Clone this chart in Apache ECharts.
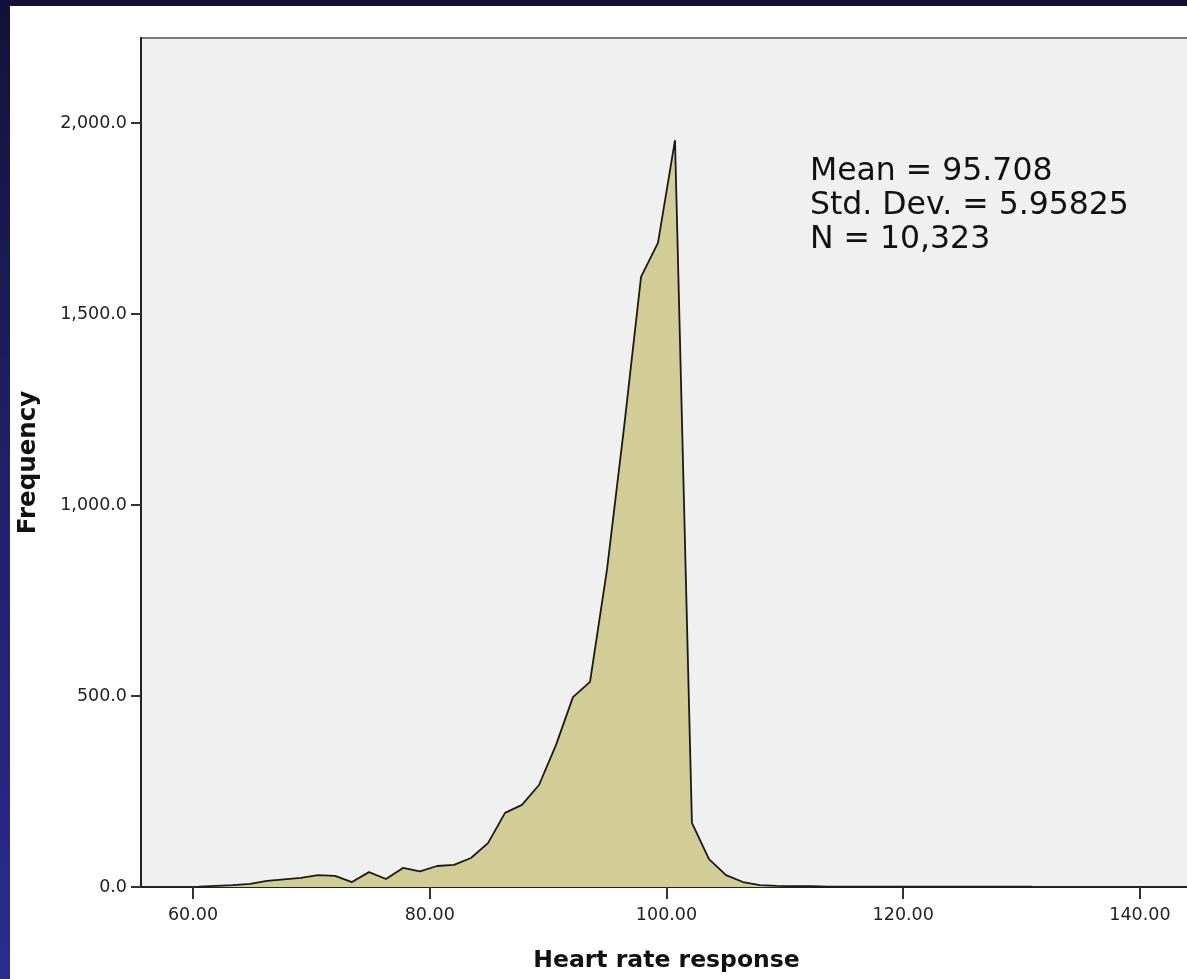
<!DOCTYPE html>
<html>
<head>
<meta charset="utf-8">
<script src="https://cdn.jsdelivr.net/npm/echarts@6/dist/echarts.min.js"></script>
<style>
  html, body { margin: 0; padding: 0; width: 1187px; height: 979px; overflow: hidden; position: relative;
    background: linear-gradient(to bottom, #121238 0%, #1e1e62 40%, #2b2b8f 100%); }
  #panel { position: absolute; left: 10px; top: 6px; right: 0; bottom: 0; background: #ffffff; }
  #chart { position: absolute; left: 0; top: 0; width: 1210px; height: 979px; }
</style>
</head>
<body>
<div id="panel"></div>
<div id="chart"></div>
<script>
// Bin centres (heart rate response) and frequencies
const binCenters = [
  60.51, 61.94, 63.38, 64.82, 66.25, 67.69, 69.12, 70.56, 72.00, 73.43,
  74.87, 76.30, 77.74, 79.18, 80.61, 82.05, 83.48, 84.92, 86.36, 87.79,
  89.23, 90.67, 92.10, 93.54, 94.97, 96.41, 97.85, 99.28, 100.72, 102.15,
  103.59, 105.03, 106.46, 107.90, 109.34, 110.77, 112.21, 113.64, 115.08, 116.52,
  117.95, 119.39, 120.82, 122.26, 123.70, 125.13, 126.57, 128.00, 129.44, 130.88
];
const frequencies = [
  1, 3, 5, 8, 16, 20, 24, 31, 29, 13,
  39, 21, 50, 41, 55, 58, 76, 115, 194, 215,
  267, 372, 497, 537, 830, 1202, 1597, 1686, 1955, 168,
  73, 31, 13, 5, 3, 2, 2, 1, 1, 1,
  1, 1, 1, 1, 1, 1, 1, 1, 1, 1
];
const xTicks = [60, 80, 100, 120, 140];
const yTicks = [0, 500, 1000, 1500, 2000];
const statsLines = ['Mean = 95.708', 'Std. Dev. = 5.95825', 'N = 10,323'];
const xTitle = 'Heart rate response';
const yTitle = 'Frequency';

const points = binCenters.map((x, i) => [x, frequencies[i]]);

function fmtY(v) {
  return v.toLocaleString('en-US', { minimumFractionDigits: 1, maximumFractionDigits: 1 });
}

const chart = echarts.init(document.getElementById('chart'), null, { renderer: 'canvas' });
const FONT = 'DejaVu Sans';
chart.setOption({
  backgroundColor: 'transparent',
  animation: false,
  grid: {
    left: 141, top: 38, right: 8, bottom: 92,
    show: true, backgroundColor: '#f0f0f0', borderColor: '#7a7a7a', borderWidth: 2
  },
  xAxis: {
    type: 'value', min: 55.607, max: 145.24,
    name: xTitle, nameLocation: 'middle', nameGap: 62,
    nameTextStyle: { fontFamily: FONT, fontWeight: 'bold', fontSize: 23.5, color: '#111', padding: [0, 10, 0, 0] },
    axisLine: { show: true, onZero: false, lineStyle: { color: '#222', width: 2 } },
    axisTick: { show: true, customValues: xTicks, length: 12, lineStyle: { color: '#333', width: 2 } },
    axisLabel: { customValues: xTicks, margin: 19, fontFamily: FONT, fontSize: 17.5, color: '#222',
      formatter: v => v.toFixed(2) },
    splitLine: { show: false }
  },
  yAxis: {
    type: 'value', min: 0, max: 2222.5,
    name: yTitle, nameLocation: 'middle', nameGap: 100, nameRotate: 90,
    nameTextStyle: { fontFamily: FONT, fontWeight: 'bold', fontSize: 24.5, color: '#111' },
    axisLine: { show: true, lineStyle: { color: '#222', width: 2 } },
    axisTick: { show: true, customValues: yTicks, length: 10, lineStyle: { color: '#333', width: 2 } },
    axisLabel: { customValues: yTicks, margin: 14, fontFamily: FONT, fontSize: 17.5, color: '#222',
      formatter: v => fmtY(v) },
    splitLine: { show: false }
  },
  series: [{
    type: 'line',
    data: points,
    showSymbol: false,
    smooth: false,
    lineStyle: { color: '#1a1a1a', width: 1.8 },
    areaStyle: { color: '#d2cc96', opacity: 1 },
    z: 3
  }],
  graphic: statsLines.map((t, i) => ({
    type: 'text', left: 810, top: 156 + i * 34, z: 10,
    style: { text: t, fontFamily: FONT, fontSize: 31.5, fill: '#111' }
  }))
});
</script>
</body>
</html>
